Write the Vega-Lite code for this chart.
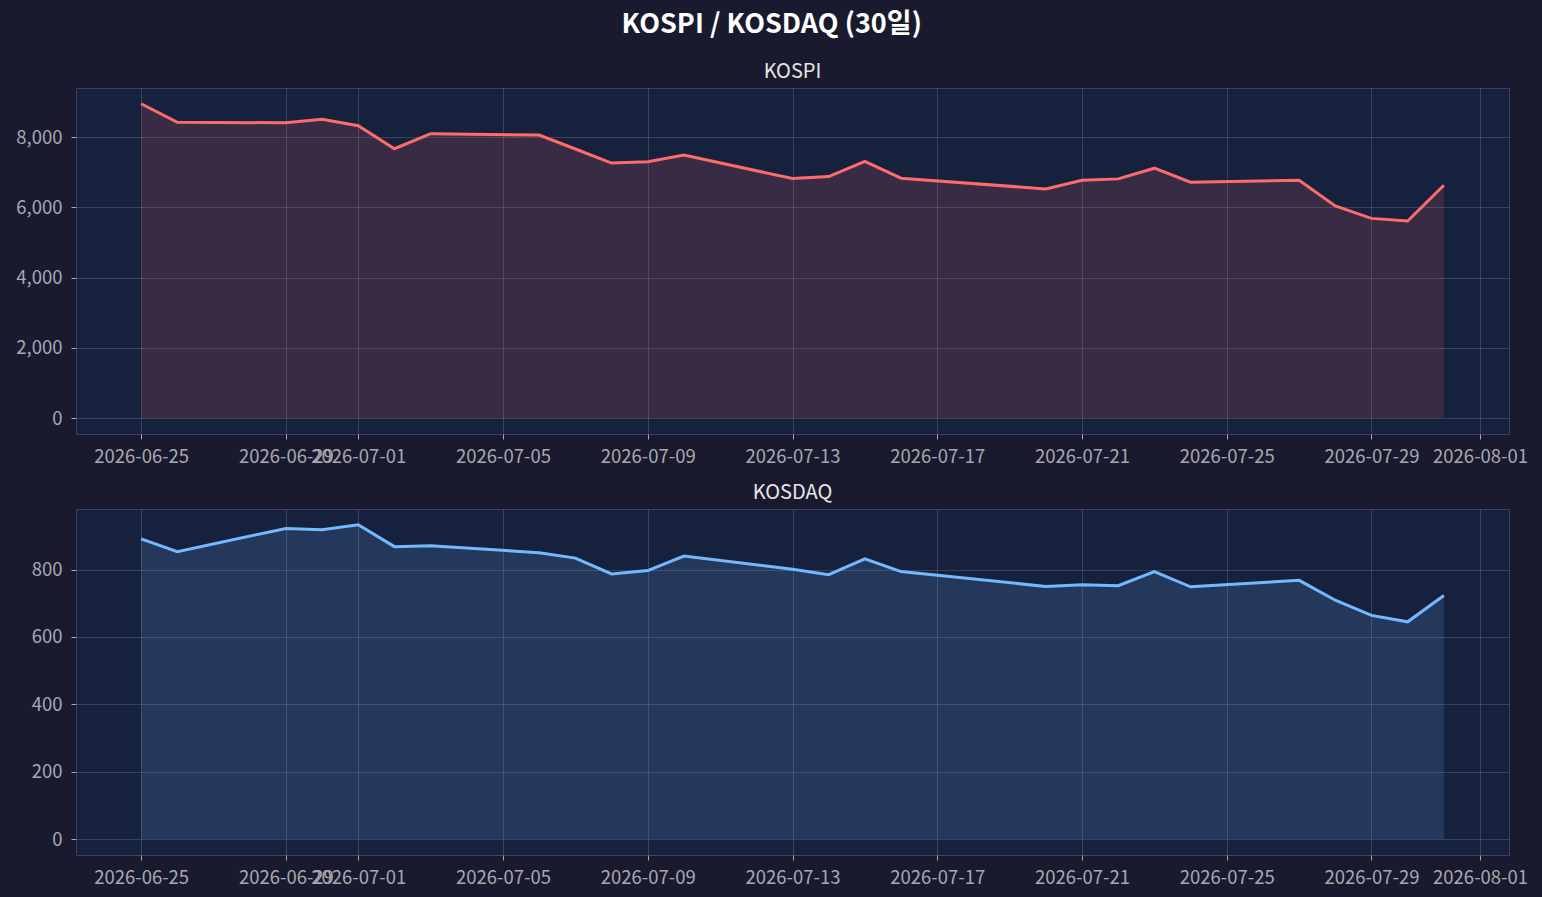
{
  "$schema": "https://vega.github.io/schema/vega-lite/v6.json",
  "background": "#1a1a2e",
  "padding": {"left": 15, "top": 10, "right": 15, "bottom": 12},
  "title": {
    "text": "KOSPI / KOSDAQ (30일)",
    "anchor": "middle",
    "font": "Noto Sans CJK KR",
    "fontSize": 27,
    "fontWeight": "bold",
    "color": "#ffffff",
    "offset": 23
  },
  "data": {
    "values": [
      {"date": "2026-06-25", "kospi": 8948, "kosdaq": 891},
      {"date": "2026-06-26", "kospi": 8418, "kosdaq": 853},
      {"date": "2026-06-29", "kospi": 8407, "kosdaq": 922},
      {"date": "2026-06-30", "kospi": 8504, "kosdaq": 918},
      {"date": "2026-07-01", "kospi": 8322, "kosdaq": 933},
      {"date": "2026-07-02", "kospi": 7667, "kosdaq": 868},
      {"date": "2026-07-03", "kospi": 8094, "kosdaq": 871},
      {"date": "2026-07-06", "kospi": 8057, "kosdaq": 850},
      {"date": "2026-07-07", "kospi": 7660, "kosdaq": 834},
      {"date": "2026-07-08", "kospi": 7260, "kosdaq": 787},
      {"date": "2026-07-09", "kospi": 7297, "kosdaq": 797},
      {"date": "2026-07-10", "kospi": 7488, "kosdaq": 840},
      {"date": "2026-07-13", "kospi": 6820, "kosdaq": 801},
      {"date": "2026-07-14", "kospi": 6876, "kosdaq": 785},
      {"date": "2026-07-15", "kospi": 7305, "kosdaq": 832},
      {"date": "2026-07-16", "kospi": 6829, "kosdaq": 794},
      {"date": "2026-07-20", "kospi": 6524, "kosdaq": 750},
      {"date": "2026-07-21", "kospi": 6771, "kosdaq": 755},
      {"date": "2026-07-22", "kospi": 6810, "kosdaq": 752},
      {"date": "2026-07-23", "kospi": 7114, "kosdaq": 794},
      {"date": "2026-07-24", "kospi": 6714, "kosdaq": 749},
      {"date": "2026-07-27", "kospi": 6771, "kosdaq": 768},
      {"date": "2026-07-28", "kospi": 6038, "kosdaq": 709},
      {"date": "2026-07-29", "kospi": 5686, "kosdaq": 664},
      {"date": "2026-07-30", "kospi": 5610, "kosdaq": 645},
      {"date": "2026-07-31", "kospi": 6629, "kosdaq": 723}
    ]
  },
  "spacing": 16,
  "vconcat": [
    {
      "title": {"text": "KOSPI"},
      "width": 1433,
      "height": 346,
      "encoding": {
        "x": {
          "field": "date",
          "type": "temporal",
          "scale": {
            "type": "utc",
            "domain": [
              {"year": 2026, "month": 6, "date": 23, "hours": 4, "minutes": 48, "utc": true},
              {"year": 2026, "month": 8, "date": 1, "hours": 19, "minutes": 12, "utc": true}
            ]
          },
          "axis": {
            "values": [
              {"year": 2026, "month": 6, "date": 25, "utc": true},
              {"year": 2026, "month": 6, "date": 29, "utc": true},
              {"year": 2026, "month": 7, "date": 1, "utc": true},
              {"year": 2026, "month": 7, "date": 5, "utc": true},
              {"year": 2026, "month": 7, "date": 9, "utc": true},
              {"year": 2026, "month": 7, "date": 13, "utc": true},
              {"year": 2026, "month": 7, "date": 17, "utc": true},
              {"year": 2026, "month": 7, "date": 21, "utc": true},
              {"year": 2026, "month": 7, "date": 25, "utc": true},
              {"year": 2026, "month": 7, "date": 29, "utc": true},
              {"year": 2026, "month": 8, "date": 1, "utc": true}
            ],
            "labelExpr": "utcFormat(datum.value, '%Y-%m-%d')"
          }
        },
        "y": {
          "field": "kospi",
          "type": "quantitative",
          "scale": {"domain": [-447, 9395], "nice": false, "zero": false},
          "axis": {"values": [0, 2000, 4000, 6000, 8000], "labelExpr": "format(datum.value, ',')"}
        }
      },
      "layer": [
        {"mark": {"type": "area", "color": "#ff6b6b", "opacity": 0.15}},
        {"mark": {"type": "line", "color": "#ff6b6b", "strokeWidth": 3}}
      ]
    },
    {
      "title": {"text": "KOSDAQ"},
      "width": 1433,
      "height": 346,
      "encoding": {
        "x": {
          "field": "date",
          "type": "temporal",
          "scale": {
            "type": "utc",
            "domain": [
              {"year": 2026, "month": 6, "date": 23, "hours": 4, "minutes": 48, "utc": true},
              {"year": 2026, "month": 8, "date": 1, "hours": 19, "minutes": 12, "utc": true}
            ]
          },
          "axis": {
            "values": [
              {"year": 2026, "month": 6, "date": 25, "utc": true},
              {"year": 2026, "month": 6, "date": 29, "utc": true},
              {"year": 2026, "month": 7, "date": 1, "utc": true},
              {"year": 2026, "month": 7, "date": 5, "utc": true},
              {"year": 2026, "month": 7, "date": 9, "utc": true},
              {"year": 2026, "month": 7, "date": 13, "utc": true},
              {"year": 2026, "month": 7, "date": 17, "utc": true},
              {"year": 2026, "month": 7, "date": 21, "utc": true},
              {"year": 2026, "month": 7, "date": 25, "utc": true},
              {"year": 2026, "month": 7, "date": 29, "utc": true},
              {"year": 2026, "month": 8, "date": 1, "utc": true}
            ],
            "labelExpr": "utcFormat(datum.value, '%Y-%m-%d')"
          }
        },
        "y": {
          "field": "kosdaq",
          "type": "quantitative",
          "scale": {"domain": [-46.65, 979.65], "nice": false, "zero": false},
          "axis": {"values": [0, 200, 400, 600, 800], "labelExpr": "format(datum.value, ',')"}
        }
      },
      "layer": [
        {"mark": {"type": "area", "color": "#74b9ff", "opacity": 0.15}},
        {"mark": {"type": "line", "color": "#74b9ff", "strokeWidth": 3}}
      ]
    }
  ],
  "config": {
    "view": {"fill": "#16213e", "stroke": "#3b3f63", "strokeWidth": 1},
    "axis": {
      "title": null,
      "domain": false,
      "grid": true,
      "gridColor": "#ffffff",
      "gridOpacity": 0.15,
      "tickColor": "#aaaaaa",
      "tickSize": 5,
      "labelColor": "#a8a8b0",
      "labelFont": "Noto Sans CJK KR",
      "labelFontSize": 18.5,
      "labelOverlap": false
    },
    "axisY": {"minExtent": 60, "maxExtent": 60, "labelPadding": 9},
    "axisX": {"minExtent": 31, "maxExtent": 31, "labelFlush": false, "labelPadding": 8},
    "title": {
      "font": "Noto Sans CJK KR",
      "fontSize": 20,
      "fontWeight": "normal",
      "color": "#e6e6e6",
      "offset": 6
    }
  }
}
